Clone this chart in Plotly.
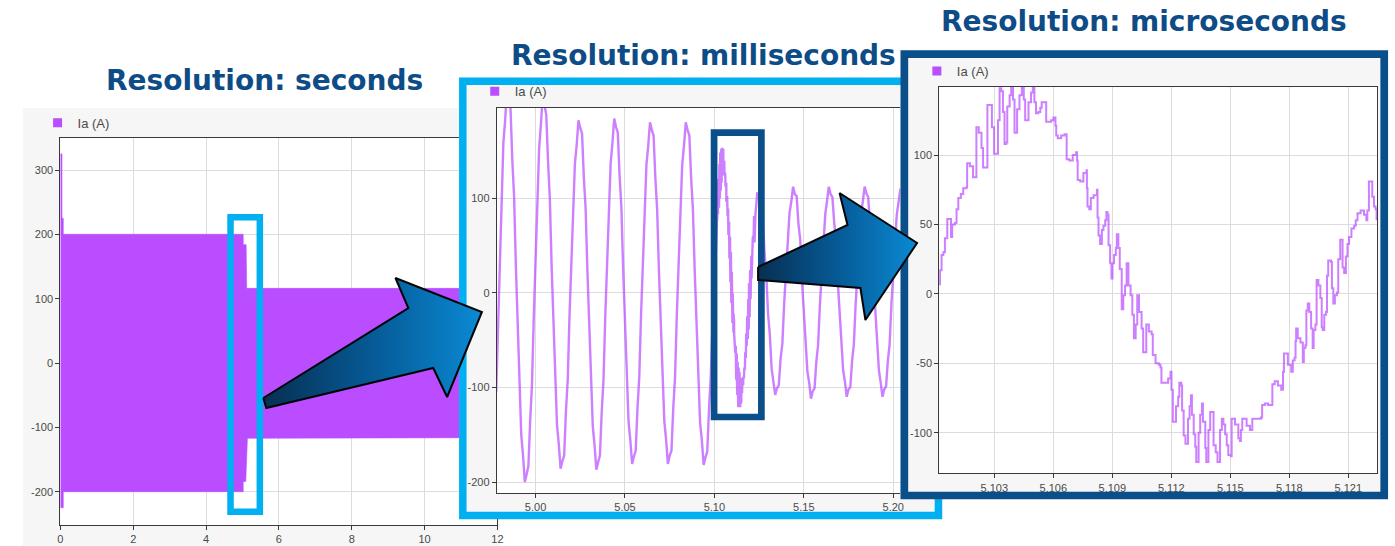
import plotly.graph_objects as go

W, H = 1395, 546


def fx(x):
    return x / W


def fy(y):
    return 1 - y / H


PURPLE = "#b94dff"
LINE_PURPLE = "rgba(185, 77, 255, 0.72)"
CYAN = "#00b0f0"
NAVY = "#0b4f8a"
TITLE_BLUE = "#0e4c87"
PANEL = "#f6f6f6"
GRID = "#dcdcdc"
AXIS = "#3a3a3a"
TICK_TXT = "#4a4a4a"

# ---------------- seconds view: envelope of Ia over the whole run (s, A)
sec_upper_t = [0.0, 0.045, 0.045, 0.08, 0.08, 5.02, 5.02, 5.10, 5.115, 12.0]
sec_upper = [325, 325, 225, 225, 200, 200, 184, 184, 116, 116]
sec_lower_t = [0.0, 0.08, 0.08, 5.02, 5.02, 5.09, 5.135, 12.0]
sec_lower = [-225, -225, -200, -200, -184, -184, -117, -116]

sec_xticks = [0, 2, 4, 6, 8, 10, 12]
sec_yticks = [-200, -100, 0, 100, 200, 300]

# ---------------- milliseconds view: Ia sampled every 1 ms
ms_dt = 0.001
ms_before_t0 = 4.978
ms_before = [
    -105, -35,
    38, 90, 158, 182, 215, 205, 195, 140, 102, 28,
    -38, -85, -150, -172, -200, -192, -183, -135, -97, -26,
    38, 88, 152, 178, 208, 198, 188, 138, 99, 27,
    -35, -80, -140, -160, -186, -178, -172, -125, -92, -24,
    34, 78, 136, 156, 182, 174, 168, 122, 89, 23,
    -35, -80, -141, -161, -187, -179, -172, -126, -92, -24,
    35, 78, 137, 158, 184, 175, 169, 123, 90, 24,
    -34, -78, -136, -156, -181, -173, -167, -122, -89, -23,
    34, 77, 135, 155, 180, 172, 166, 121, 88, 23,
    -34, -77, -136, -155, -181, -172, -167, -122, -89, -23,
    34, 77, 135, 155, 180, 172, 166, 121, 88, 23,
    -34, -78, -137, -156, -182, -174, -168, -123, -88, -30,
    2,
]
ms_after_t0 = 5.123
ms_after = [
    84, 106, 101, 92, 80, 44, 20,
    -22, -44, -80, -92, -108, -101, -98, -70, -54, -12,
    22, 46, 84, 96, 112, 104, 102, 73, 56, 12,
    -22, -46, -83, -95, -112, -104, -101, -73, -55, -13,
    21, 47, 83, 97, 112, 104, 101, 74, 55, 12,
    -21, -45, -82, -94, -110, -102, -100, -72, -54, -12,
    22, 46, 84, 96, 112, 105, 101, 73, 55, 13,
    -21, -46, -82, -95, -110, -102, -99, -72, -54, -12,
    21, 46, 83, 96, 110, 104,
]
ms_xticks = [5.00, 5.05, 5.10, 5.15, 5.20]
ms_yticks = [-200, -100, 0, 100]

# ---------------- microseconds view: one period of Ia with PWM ripple (s, A)
us_t = [
    5.10019, 5.10024, 5.10032, 5.10041, 5.10049, 5.10061, 5.10075, 5.10080,
    5.10086, 5.10100, 5.10108, 5.10117, 5.10130, 5.10142, 5.10159, 5.10162,
    5.10176, 5.10192, 5.10204, 5.10209, 5.10221, 5.10235, 5.10243, 5.10260,
    5.10265, 5.10282, 5.10288, 5.10299, 5.10307, 5.10319, 5.10327, 5.10336,
    5.10344, 5.10352, 5.10361, 5.10366, 5.10378, 5.10386, 5.10395, 5.10403,
    5.10411, 5.10416, 5.10428, 5.10440, 5.10450, 5.10457, 5.10467, 5.10474,
    5.10487, 5.10496, 5.10504, 5.10512, 5.10524, 5.10534, 5.10541, 5.10554,
    5.10564, 5.10589, 5.10601, 5.10611, 5.10615, 5.10623, 5.10640, 5.10657,
    5.10667, 5.10668, 5.10682, 5.10699, 5.10716, 5.10721, 5.10724, 5.10737,
    5.10753, 5.10769, 5.10771, 5.10774, 5.10783, 5.10791, 5.10805, 5.10822,
    5.10825, 5.10830, 5.10838, 5.10847, 5.10855, 5.10864, 5.10870, 5.10876,
    5.10881, 5.10889, 5.10896, 5.10901, 5.10909, 5.10918, 5.10923, 5.10931,
    5.10938, 5.10948, 5.10956, 5.10965, 5.10973, 5.10982, 5.10993, 5.11002,
    5.11010, 5.11019, 5.11027, 5.11036, 5.11049, 5.11057, 5.11066, 5.11073,
    5.11086, 5.11100, 5.11106, 5.11120, 5.11137, 5.11145, 5.11150, 5.11171,
    5.11184, 5.11196, 5.11201, 5.11208, 5.11218, 5.11224, 5.11235, 5.11241,
    5.11251, 5.11255, 5.11263, 5.11272, 5.11280, 5.11285, 5.11293, 5.11300,
    5.11305, 5.11314, 5.11322, 5.11327, 5.11336, 5.11339, 5.11347, 5.11356,
    5.11361, 5.11373, 5.11378, 5.11386, 5.11389, 5.11398, 5.11406, 5.11415,
    5.11426, 5.11435, 5.11443, 5.11448, 5.11457, 5.11465, 5.11474, 5.11482,
    5.11490, 5.11504, 5.11507, 5.11524, 5.11541, 5.11549, 5.11554, 5.11561,
    5.11583, 5.11600, 5.11608, 5.11612, 5.11642, 5.11656, 5.11662, 5.11676,
    5.11692, 5.11709, 5.11714, 5.11726, 5.11742, 5.11759, 5.11768, 5.11773,
    5.11781, 5.11793, 5.11810, 5.11818, 5.11827, 5.11832, 5.11835, 5.11843,
    5.11857, 5.11869, 5.11874, 5.11882, 5.11887, 5.11894, 5.11902, 5.11911,
    5.11919, 5.11924, 5.11933, 5.11939, 5.11948, 5.11958, 5.11965, 5.11970,
    5.11978, 5.11987, 5.11992, 5.11998, 5.12012, 5.12017, 5.12024, 5.12032,
    5.12042, 5.12049, 5.12059, 5.12066, 5.12071, 5.12079, 5.12088, 5.12096,
    5.12104, 5.12116, 5.12130, 5.12138, 5.12147, 5.12163, 5.12180, 5.12192,
    5.12197, 5.12205, 5.12217, 5.12222, 5.12231, 5.12239, 5.12244,
]
us_ia = [
    7, 17, 28, 30, 40, 54, 54, 41,
    50, 51, 61, 69, 72, 76, 77, 94,
    92, 84, 84, 120, 116, 105, 91, 91,
    136, 136, 120, 101, 101, 125, 148, 146,
    131, 108, 109, 135, 143, 152, 140, 116,
    116, 133, 143, 153, 140, 125, 125, 138,
    145, 152, 138, 130, 131, 134, 138, 138,
    124, 125, 127, 121, 114, 112, 114, 115,
    115, 97, 96, 100, 102, 96, 82, 81,
    87, 89, 76, 63, 61, 69, 71, 75,
    55, 42, 36, 46, 49, 53, 59, 57,
    35, 22, 11, 22, 28, 33, 43, 33,
    18, -11, -1, 6, 22, 6, -1, -15,
    -32, -22, -1, -13, -25, -42, -42, -22,
    -27, -29, -44, -50, -51, -53, -64, -64,
    -61, -56, -69, -92, -92, -81, -74, -64,
    -66, -84, -102, -108, -108, -90, -81, -73,
    -87, -101, -110, -121, -121, -100, -87, -79,
    -92, -111, -121, -121, -98, -85, -85, -109,
    -114, -121, -121, -98, -90, -94, -101, -109,
    -116, -117, -90, -94, -104, -106, -98, -90,
    -95, -98, -98, -90, -90, -89, -80, -79,
    -80, -80, -65, -63, -66, -69, -56, -43,
    -43, -51, -56, -48, -46, -34, -25, -32,
    -35, -49, -39, -37, -12, -7, -13, -25,
    -39, -26, -22, 10, 6, -3, -24, -26,
    -15, -13, 13, 24, 23, 4, -7, -1,
    1, 25, 39, 39, 19, 15, 27, 36,
    41, 47, 49, 53, 58, 60, 57, 53,
    60, 81, 81, 70, 63, 61, 53,
]
us_xticks = [5.103, 5.106, 5.109, 5.112, 5.115, 5.118, 5.121]
us_yticks = [-100, -50, 0, 50, 100]

SERIES = "Ia (A)"
TITLES = ["Resolution: seconds", "Resolution: milliseconds", "Resolution: microseconds"]

# ---------------- assemble series
ms_t = [ms_before_t0 + k * ms_dt for k in range(len(ms_before))]
ms_t += us_t
ms_t += [ms_after_t0 + k * ms_dt for k in range(len(ms_after))]
ms_ia = ms_before + us_ia + ms_after

sec_poly_t = sec_upper_t + sec_lower_t[::-1]
sec_poly_v = sec_upper + sec_lower[::-1]


def ticktext(vals, fmt):
    return [format(v, fmt) for v in vals]


fig = go.Figure()

# seconds panel
fig.add_trace(go.Scatter(
    x=sec_poly_t, y=sec_poly_v, mode="lines", fill="toself",
    fillcolor=PURPLE, line=dict(color=PURPLE, width=0.6),
    xaxis="x", yaxis="y", showlegend=False, hoverinfo="skip"))
fig.add_trace(go.Scatter(
    x=[None], y=[None], mode="markers", name=SERIES,
    marker=dict(symbol="square", size=9, color=PURPLE),
    xaxis="x", yaxis="y", legend="legend"))


def panel_cover(axis, outer, inner):
    (x0, y0, x1, y1), (a0, b0, a1, b1) = outer, inner
    fig.add_trace(go.Scatter(
        x=[x0, x1, x1, x0, x0], y=[y0, y0, y1, y1, y0], mode="lines",
        fill="toself", fillcolor=PANEL, line=dict(width=0),
        xaxis="x" + axis, yaxis="y" + axis, showlegend=False, hoverinfo="skip"))
    fig.add_trace(go.Scatter(
        x=[a0, a1, a1, a0, a0], y=[b0, b0, b1, b1, b0], mode="lines",
        fill="toself", fillcolor="white", line=dict(width=0),
        xaxis="x" + axis, yaxis="y" + axis, showlegend=False, hoverinfo="skip"))


# milliseconds panel
panel_cover("2", (459, 77, 946, 519), (497, 108, 905, 493))
fig.add_trace(go.Scatter(
    x=ms_t, y=ms_ia, mode="lines", line=dict(color=LINE_PURPLE, width=2.4),
    xaxis="x3", yaxis="y3", showlegend=False, hoverinfo="skip"))
fig.add_trace(go.Scatter(
    x=[None], y=[None], mode="markers", name=SERIES,
    marker=dict(symbol="square", size=9, color=PURPLE),
    xaxis="x3", yaxis="y3", legend="legend2"))

# microseconds panel
panel_cover("4", (903, 50, 1394, 499), (942.3, 86.7, 1383.3, 473.3))
fig.add_trace(go.Scatter(
    x=us_t, y=us_ia, mode="lines", line=dict(color=LINE_PURPLE, width=2, shape="hv"),
    xaxis="x5", yaxis="y5", showlegend=False, hoverinfo="skip"))
fig.add_trace(go.Scatter(
    x=[None], y=[None], mode="markers", name=SERIES,
    marker=dict(symbol="square", size=9, color=PURPLE),
    xaxis="x5", yaxis="y5", legend="legend3"))


# zoom frames and arrows, drawn in page pixels on a top layer
def frame(xs, ys, color, width):
    fig.add_trace(go.Scatter(
        x=xs, y=ys, mode="lines", line=dict(color=color, width=width),
        xaxis="x6", yaxis="y6", showlegend=False, hoverinfo="skip"))


def box(x0, y0, x1, y1, color, width):
    frame([x0, x1, x1, x0, x0, x1], [y0, y0, y1, y1, y0, y0], color, width)


box(229, 217.3, 258.5, 511.7, CYAN, 6.5)
frame([906, 462.8, 462.8, 941.5, 941.5], [81.2, 81.2, 515.5, 515.5, 494], CYAN, 7.5)
box(715.7, 132.7, 763.3, 417, NAVY, 6.7)
box(907.2, 54.2, 1390.2, 495.5, NAVY, 7.7)

ARROW_SCALE = [[0, "#072f52"], [0.5, "#065a96"], [1, "#0a8ad4"]]
arrows = [
    ([262, 408, 395, 482, 447, 433, 265, 262], [398, 308, 278, 312, 397, 368, 408, 398]),
    ([760, 850, 842, 920, 868, 863, 760, 760], [267, 225, 193, 243, 320, 288, 280, 267]),
]
for ax_, ay_ in arrows:
    fig.add_trace(go.Scatter(
        x=ax_, y=ay_, mode="lines", fill="toself",
        fillgradient=dict(type="horizontal", colorscale=ARROW_SCALE),
        line=dict(color="#050505", width=2),
        xaxis="x6", yaxis="y6", showlegend=False, hoverinfo="skip"))

tick_font = dict(family="Liberation Sans, Arial, sans-serif", size=11, color=TICK_TXT)
axis_style = dict(
    showline=True, mirror=True, linecolor=AXIS, linewidth=1,
    ticks="outside", ticklen=4, tickcolor=AXIS, tickwidth=1,
    showgrid=True, gridcolor=GRID, gridwidth=1, zeroline=False,
    tickfont=tick_font, fixedrange=True,
)
hidden = dict(visible=False, fixedrange=True, domain=[0, 1])

layout = dict(
    width=W, height=H, margin=dict(l=0, r=0, t=0, b=0),
    paper_bgcolor="white", plot_bgcolor="rgba(0,0,0,0)",
    xaxis=dict(axis_style, domain=[fx(57.7), fx(497.7)], range=[0, 12], anchor="y",
               tickvals=sec_xticks, ticktext=ticktext(sec_xticks, "d")),
    yaxis=dict(axis_style, domain=[fy(525), fy(137.7)], range=[-251.8, 350.2], anchor="x",
               tickvals=sec_yticks, ticktext=ticktext(sec_yticks, "d")),
    xaxis2=dict(hidden, range=[0, W], anchor="y2"),
    yaxis2=dict(hidden, range=[H, 0], anchor="x2"),
    xaxis3=dict(axis_style, domain=[fx(497), fx(905)], range=[4.97833, 5.205], anchor="y3",
                tickvals=ms_xticks, ticktext=ticktext(ms_xticks, ".2f")),
    yaxis3=dict(axis_style, domain=[fy(493), fy(108)], range=[-211.6, 195.1], anchor="x3",
                tickvals=ms_yticks, ticktext=ticktext(ms_yticks, "d")),
    xaxis4=dict(hidden, range=[0, W], anchor="y4"),
    yaxis4=dict(hidden, range=[H, 0], anchor="x4"),
    xaxis5=dict(axis_style, domain=[fx(942.3), fx(1383.3)], range=[5.10020, 5.12248], anchor="y5",
                tickvals=us_xticks, ticktext=ticktext(us_xticks, ".3f")),
    yaxis5=dict(axis_style, domain=[fy(473.3), fy(86.7)], range=[-129.2, 149.2], anchor="x5",
                tickvals=us_yticks, ticktext=ticktext(us_yticks, "d")),
    xaxis6=dict(hidden, range=[0, W], anchor="y6"),
    yaxis6=dict(hidden, range=[H, 0], anchor="x6"),
    shapes=[
        dict(type="rect", xref="paper", yref="paper", layer="below",
             x0=fx(20), x1=fx(500), y0=fy(546), y1=fy(108),
             fillcolor=PANEL, line=dict(width=0)),
        dict(type="rect", xref="paper", yref="paper", layer="below",
             x0=fx(57.7), x1=fx(497.7), y0=fy(525), y1=fy(137.7),
             fillcolor="white", line=dict(width=0)),
    ],
    annotations=[
        dict(text="<b>%s</b>" % TITLES[0], x=fx(263), y=fy(80), xref="paper", yref="paper",
             xanchor="center", yanchor="middle", showarrow=False,
             font=dict(family="DejaVu Sans", size=28, color=TITLE_BLUE)),
        dict(text="<b>%s</b>" % TITLES[1], x=fx(705), y=fy(56), xref="paper", yref="paper",
             xanchor="center", yanchor="middle", showarrow=False,
             font=dict(family="DejaVu Sans", size=28, color=TITLE_BLUE)),
        dict(text="<b>%s</b>" % TITLES[2], x=fx(1148), y=fy(21.7), xref="paper", yref="paper",
             xanchor="center", yanchor="middle", showarrow=False,
             font=dict(family="DejaVu Sans", size=28, color=TITLE_BLUE)),
    ],
    showlegend=True,
)
legend_font = dict(family="Liberation Sans, Arial, sans-serif", size=13, color=TICK_TXT)
for name, (sx, sy) in zip(["legend", "legend2", "legend3"],
                          [(63.8, 122.7), (503.8, 91.3), (948.8, 71.0)]):
    layout[name] = dict(x=fx(sx - 29), y=fy(sy), xanchor="left", yanchor="middle",
                        bgcolor="rgba(0,0,0,0)", font=legend_font, itemwidth=30)

fig.update_layout(**layout)
fig.write_html("out.html", config={"displayModeBar": False, "staticPlot": True})
